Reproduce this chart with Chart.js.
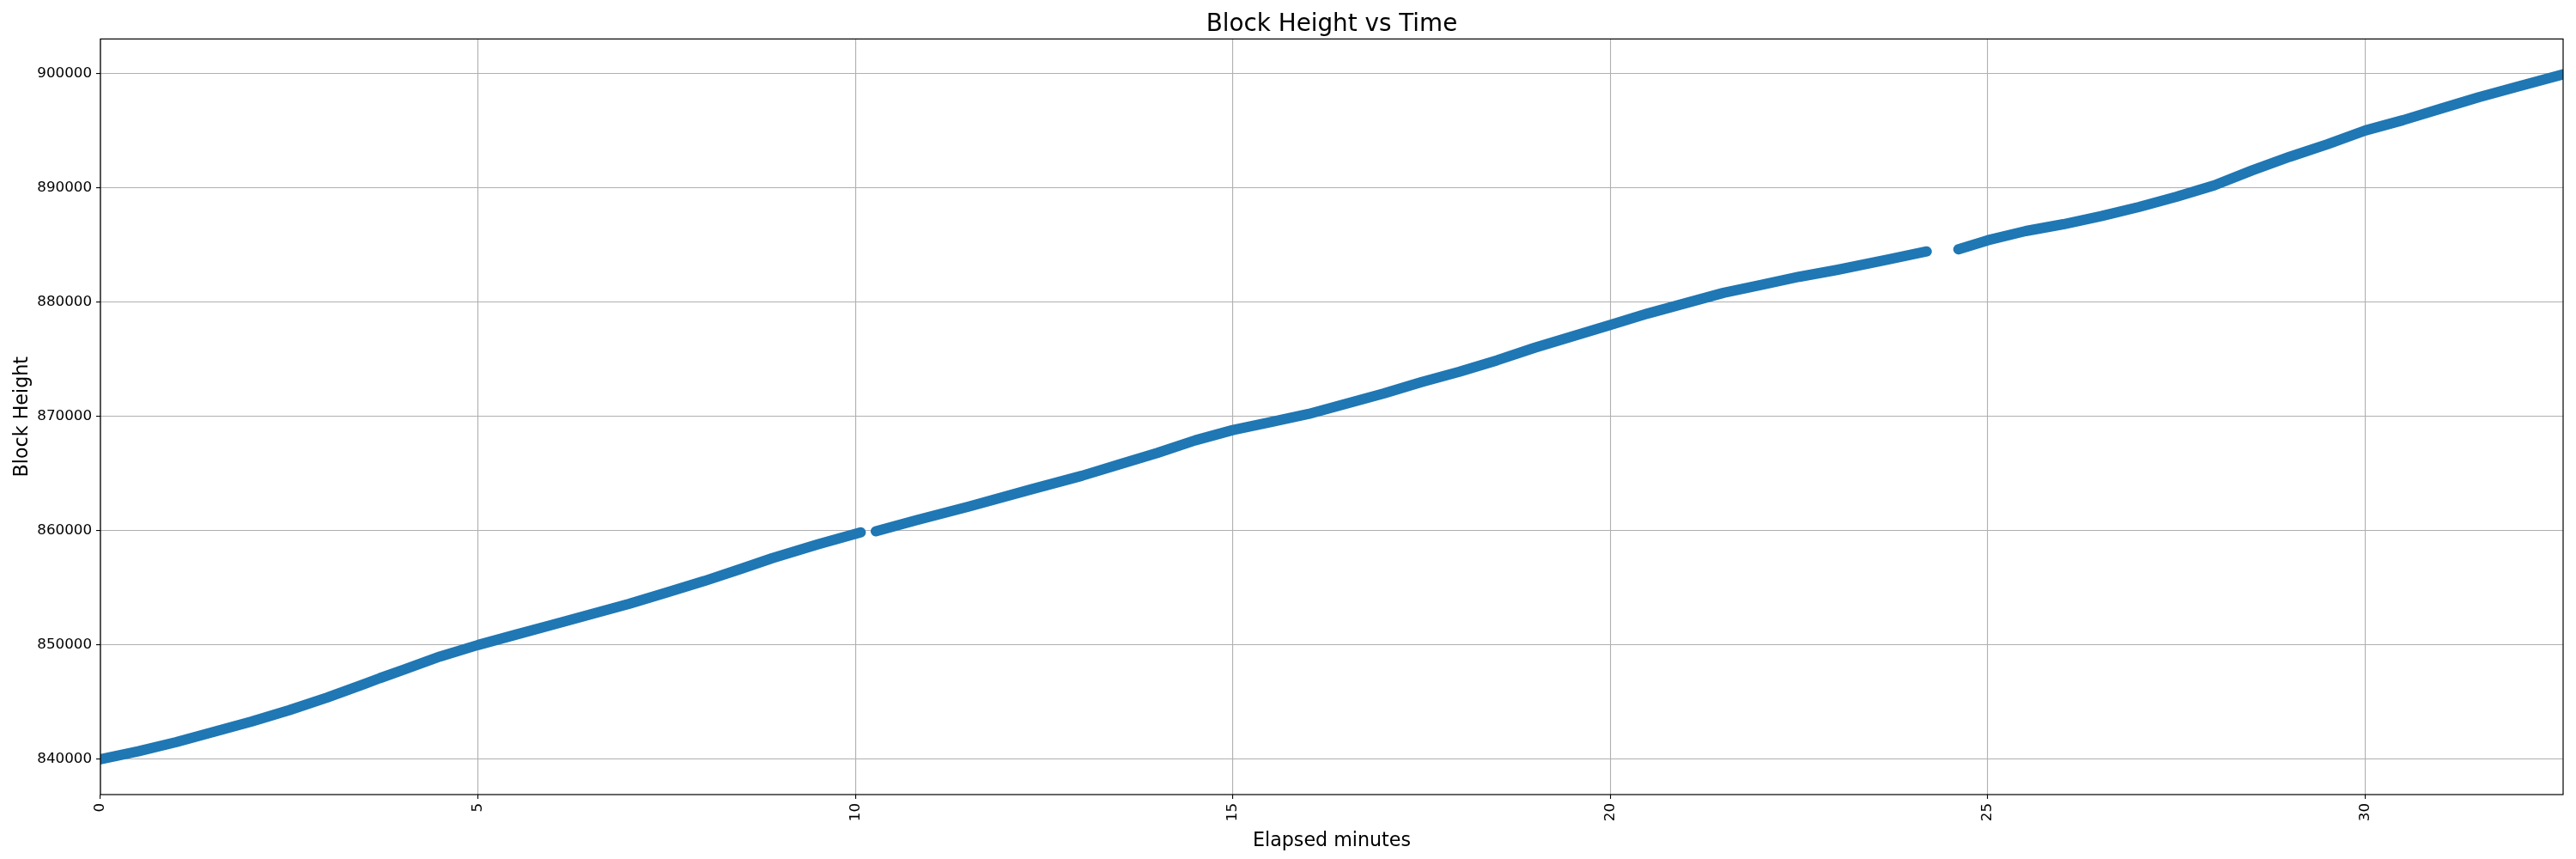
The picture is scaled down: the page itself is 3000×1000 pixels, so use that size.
<!DOCTYPE html>
<html>
<head>
<meta charset="utf-8">
<title>Block Height vs Time</title>
<script src="https://cdn.jsdelivr.net/npm/chart.js@4.4.1/dist/chart.umd.min.js"></script>
<style>
   body { margin: 0; background: #fff; }
   canvas { display: block; }
</style>
</head>
<body>
<canvas id="myChart" width="3000" height="1000"></canvas>
<script>
// elapsed minutes and block heights (null = gap in the data)
const minutes = [
   0.0, 0.5, 1.0, 1.5, 2.0, 2.5, 3.0, 3.5, 3.7, 4.0, 4.5, 5.0, 5.5, 6.0, 6.5, 7.0, 7.5, 8.0, 8.5, 8.9, 9.5, 10.07,
   10.17,
   10.27, 10.8, 11.5, 12.32, 13.0, 13.5, 14.0, 14.5, 15.0, 15.5, 16.0, 16.5, 17.0, 17.5, 18.0, 18.5, 19.0, 19.5,
   20.0, 20.5, 21.0, 21.5, 22.0, 22.5, 23.0, 23.69, 24.19,
   24.4,
   24.61, 25.0, 25.5, 26.0, 26.5, 27.0, 27.5, 28.0, 28.5, 29.0, 29.5, 30.0, 30.5, 31.0, 31.5, 32.0, 32.62
];
const heights = [
   840000, 840700, 841500, 842400, 843300, 844300, 845400, 846600, 847100, 847800, 849000, 850000, 850900, 851800, 852700, 853600, 854600, 855600, 856700, 857600, 858800, 859850,
   null,
   859950, 860900, 862100, 863600, 864800, 865800, 866800, 867900, 868800, 869500, 870200, 871100, 872000, 873000, 873900, 874900, 876000, 877000,
   878000, 879000, 879900, 880800, 881500, 882200, 882800, 883730, 884420,
   null,
   884600, 885400, 886200, 886800, 887500, 888300, 889200, 890200, 891500, 892700, 893800, 895000, 895900, 896900, 897900, 898800, 899900
];
const yTicks = [840000, 850000, 860000, 870000, 880000, 890000, 900000];
const xTicks = [0, 5, 10, 15, 20, 25, 30];

const points = minutes.map((m, i) => ({ x: m, y: heights[i] }));

// matplotlib style box round the plot
const spines = {
   id: 'spines',
   afterDraw(chart) {
      const { ctx, chartArea: a } = chart;
      ctx.save();
      ctx.strokeStyle = '#000';
      ctx.lineWidth = 1.2;
      ctx.strokeRect(a.left, a.top, a.right - a.left, a.bottom - a.top);
      ctx.restore();
   }
};

const font = 'DejaVu Sans';
const ctx = document.getElementById('myChart').getContext('2d');
new Chart(ctx, {
   type: 'scatter',
   data: {
      datasets: [{
         data: points,
         showLine: true,
         spanGaps: false,
         borderColor: '#1f77b4',
         backgroundColor: '#1f77b4',
         borderWidth: 12,
         borderCapStyle: 'round',
         borderJoinStyle: 'round',
         pointRadius: 0,
         pointHoverRadius: 0,
         tension: 0,
         clip: 0
      }]
   },
   options: {
      responsive: false,
      animation: false,
      devicePixelRatio: 1,
      layout: { padding: { left: 0, right: 15, top: 0, bottom: 0 } },
      plugins: {
         legend: { display: false },
         tooltip: { enabled: false },
         title: {
            display: true,
            fullSize: false, // centre over the plot area, not the whole canvas
            text: 'Block Height vs Time',
            color: '#000',
            font: { family: font, size: 27.8, weight: 'normal' },
            padding: { top: 12, bottom: 0 }
         }
      },
      scales: {
         x: {
            type: 'linear',
            min: 0,
            max: 32.62,
            afterBuildTicks: axis => { axis.ticks = xTicks.map(v => ({ value: v })); },
            afterFit: axis => { axis.height = 75; },
            ticks: {
               color: '#000',
               font: { family: font, size: 16.7 },
               autoSkip: false,
               minRotation: 90,
               maxRotation: 90,
               padding: 5,
               callback: v => String(v)
            },
            grid: { color: '#b0b0b0', lineWidth: 1.1, tickColor: '#000', tickLength: 5 },
            border: { display: false },
            title: {
               display: true,
               text: 'Elapsed minutes',
               color: '#000',
               font: { family: font, size: 22.2 },
               padding: { top: 0, bottom: 7 }
            }
         },
         y: {
            type: 'linear',
            min: 836920,
            max: 903000,
            afterBuildTicks: axis => { axis.ticks = yTicks.map(v => ({ value: v })); },
            afterFit: axis => { axis.width = 117; },
            ticks: {
               color: '#000',
               font: { family: font, size: 16.7 },
               padding: 5,
               callback: v => String(v)
            },
            grid: { color: '#b0b0b0', lineWidth: 1.1, tickColor: '#000', tickLength: 5 },
            border: { display: false },
            title: {
               display: true,
               text: 'Block Height',
               color: '#000',
               font: { family: font, size: 22.2 },
               padding: { top: 13, bottom: 0 }
            }
         }
      }
   },
   plugins: [spines]
});
</script>
</body>
</html>
